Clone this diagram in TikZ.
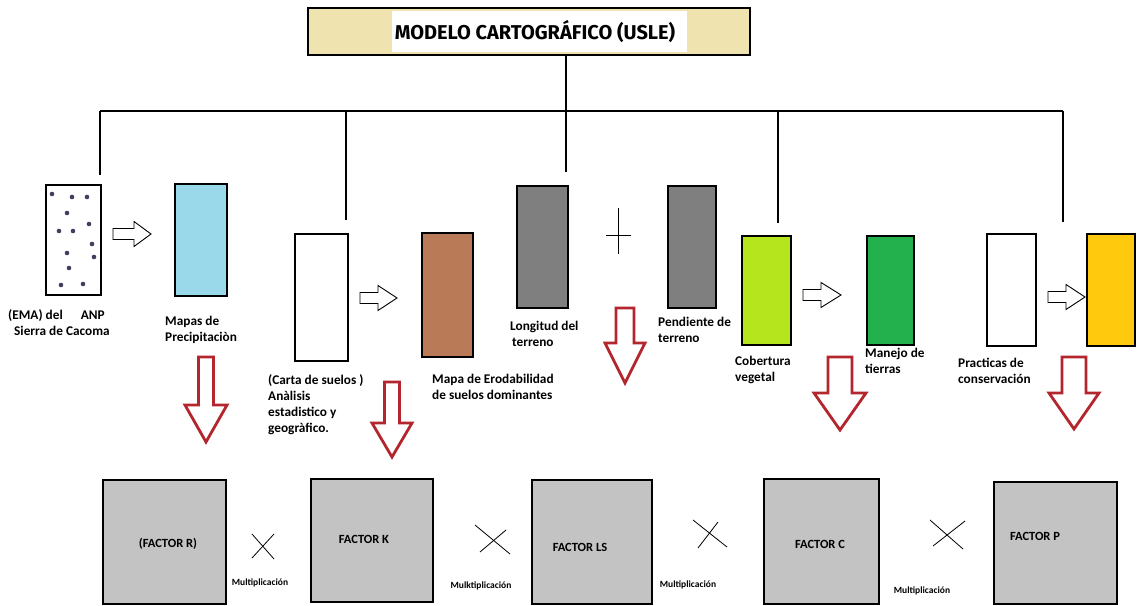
\documentclass[tikz,border=0pt]{standalone}
\usepackage{fontspec}
\setmainfont{Carlito}
\newfontfamily\titlefont{Fira Sans}
\definecolor{beige}{HTML}{EFE4B0}
\definecolor{lblue}{HTML}{99D9EA}
\definecolor{brownc}{HTML}{B97A57}
\definecolor{grayc}{HTML}{7F7F7F}
\definecolor{limec}{HTML}{B5E61D}
\definecolor{greenc}{HTML}{22B14C}
\definecolor{goldc}{HTML}{FFC90E}
\definecolor{lgray}{HTML}{C3C3C3}
\definecolor{redc}{HTML}{B3262E}
\definecolor{dotc}{HTML}{3E3E5E}
% red hollow down arrow: cx, top, headstart, tip, shaft half, head half
\newcommand\redDown[6]{%
  \draw[redarrow] ({#1-#5},#2) -- ({#1+#5},#2) -- ({#1+#5},#3) -- ({#1+#6},#3)
    -- (#1,#4) -- ({#1-#6},#3) -- ({#1-#5},#3) -- cycle;}
% white hollow right arrow: x1, headstart, x2, cy
\newcommand\whiteRight[4]{%
  \draw[whitearrow] (#1,{#4-5.5}) -- (#2,{#4-5.5}) -- (#2,{#4-12.5}) -- (#3,#4)
    -- (#2,{#4+12.5}) -- (#2,{#4+5.5}) -- (#1,{#4+5.5}) -- cycle;}
\begin{document}
\begin{tikzpicture}[x=1pt,y=-1pt,
  bx/.style={draw, line width=1.3pt, inner sep=0pt},
  fbox/.style={draw, line width=1.3pt, fill=lgray, inner sep=0pt},
  lbl/.style={font=\bfseries\fontsize{13.3}{16}\selectfont, align=left, inner sep=0pt, anchor=north west},
  ftxt/.style={font=\bfseries\fontsize{12.5}{15}\selectfont, inner sep=0pt},
  mtxt/.style={font=\bfseries\fontsize{9.5}{11}\selectfont, inner sep=0pt},
  tree/.style={line width=1.2pt},
  redarrow/.style={draw=redc, line width=2.8pt, fill=white, line join=miter},
  whitearrow/.style={draw=black, line width=0.9pt, fill=white},
  thin/.style={line width=0.8pt}
]
\useasboundingbox (0,0) rectangle (1139,605);

% title
\node[draw, line width=1.2pt, fill=beige, minimum width=442, minimum height=47, inner sep=0pt] (title) at (529,31.5) {};
\fill[white] (392,11) rectangle (687,52);
\node[font=\titlefont\bfseries\fontsize{20}{24}\selectfont, inner sep=0pt] (ttext) at (535,32) {MODELO CARTOGRÁFICO (USLE)};

% tree
\coordinate (tj) at (566,111);
\coordinate (hl) at (100,111);
\coordinate (hr) at (1063,111);
\coordinate (j2) at (346,111);
\coordinate (j4) at (778,111);
\coordinate (e1) at (100,175);
\coordinate (e2) at (346,220);
\coordinate (e3) at (566,172);
\coordinate (e4) at (778,223);
\coordinate (e5) at (1063,222);
\draw[tree] (title.south -| tj) -- (tj);
\draw[tree] (hl) -- (hr);
\draw[tree] (hl) -- (e1);
\draw[tree] (j2) -- (e2);
\draw[tree] (tj) -- (e3);
\draw[tree] (j4) -- (e4);
\draw[tree] (hr) -- (e5);

% upper boxes
\node[bx, fill=white, minimum width=55, minimum height=110] (ema) at (73.5,240) {};
\node[bx, fill=lblue, minimum width=52, minimum height=112] (prec) at (201,240) {};
\node[bx, fill=white, minimum width=53, minimum height=127] (carta) at (321.5,297.5) {};
\node[bx, fill=brownc, minimum width=51, minimum height=124] (erod) at (447.5,295) {};
\node[bx, fill=grayc, minimum width=51, minimum height=122] (long) at (542.5,247) {};
\node[bx, fill=grayc, minimum width=48, minimum height=122] (pend) at (692,247) {};
\node[bx, fill=limec, minimum width=49, minimum height=109] (cob) at (766.5,290.5) {};
\node[bx, fill=greenc, minimum width=47, minimum height=109] (man) at (890.5,290.5) {};
\node[bx, fill=white, minimum width=49, minimum height=112] (prac) at (1011.5,290) {};
\node[bx, fill=goldc, minimum width=48, minimum height=112] (yel) at (1111,290) {};

% dots
\foreach \p in {(52,194),(72,197),(87,197),(67,213),(89,224),(59,231),(73,231),(92,244),(67,253),(94,257),(69,268),(61,285),(83,284)}
  \fill[dotc] \p circle (2.3);

% white arrows
\whiteRight{113}{134}{151}{234}
\whiteRight{360}{378}{397}{298}
\whiteRight{803}{821}{841}{295}
\whiteRight{1048}{1066}{1085}{297}

% plus
\draw[line width=1pt] (618,208) -- (618,254);
\draw[line width=1pt] (606,235) -- (631,235);

% labels
\node[lbl] (l1) at (8,309) {(EMA) del\hspace{18pt}ANP\\\hspace{6pt}Sierra de Cacoma};
\node[lbl] (l2) at (165,316) {Mapas de\\Precipitaciòn};
\node[lbl] (l3) at (268,374) {(Carta de suelos )\\Anàlisis\\estadistico y\\geogràfico.};
\node[lbl] (l4) at (432,374) {Mapa de Erodabilidad\\de suelos dominantes};
\node[lbl] (l5) at (510,321) {Longitud del\\\hspace{2pt}terreno};
\node[lbl] (l6) at (658,317) {Pendiente de\\terreno};
\node[lbl] (l7) at (735,356) {Cobertura\\vegetal};
\node[lbl] (l8) at (865,348) {Manejo de\\tierras};
\node[lbl] (l9) at (958,358) {Practicas de\\conservación};

% red arrows
\redDown{206}{357}{405}{442}{7.5}{21}
\redDown{392}{382}{423}{457}{7.5}{20}
\redDown{625}{308}{343}{383}{9}{20}
\redDown{840}{357}{393}{430}{12}{26}
\redDown{1074}{357}{393}{429}{12}{25}

% factor boxes
\node[fbox, minimum width=123, minimum height=124] (fr) at (164.5,542) {};
\node[fbox, minimum width=122, minimum height=123] (fk) at (372,540.5) {};
\node[fbox, minimum width=120, minimum height=124] (fls) at (592,542) {};
\node[fbox, minimum width=115, minimum height=125] (fc) at (821.5,541.5) {};
\node[fbox, minimum width=123, minimum height=122] (fp) at (1055.5,543) {};
\node[ftxt] (tr) at (168,544) {(FACTOR R)};
\node[ftxt] (tk) at (364,539) {FACTOR K};
\node[ftxt] (tls) at (580,547) {FACTOR LS};
\node[ftxt] (tc) at (820,544) {FACTOR C};
\node[ftxt] (tp) at (1035,536) {FACTOR P};

% crosses
\draw[thin] (252,534) -- (274,559);
\draw[thin] (274,534) -- (252,558);
\draw[thin] (475,525) -- (510,554);
\draw[thin] (506,530) -- (480,552);
\draw[thin] (693,520) -- (727,547);
\draw[thin] (718,522) -- (698,548);
\draw[thin] (930,520) -- (963,549);
\draw[thin] (965,521) -- (933,546);

\node[mtxt] (m1) at (260,583) {Multiplicación};
\node[mtxt] (m2) at (481,586) {Mulktiplicación};
\node[mtxt] (m3) at (688,585) {Multiplicación};
\node[mtxt] (m4) at (922,591) {Multiplicación};
\end{tikzpicture}
\end{document}
